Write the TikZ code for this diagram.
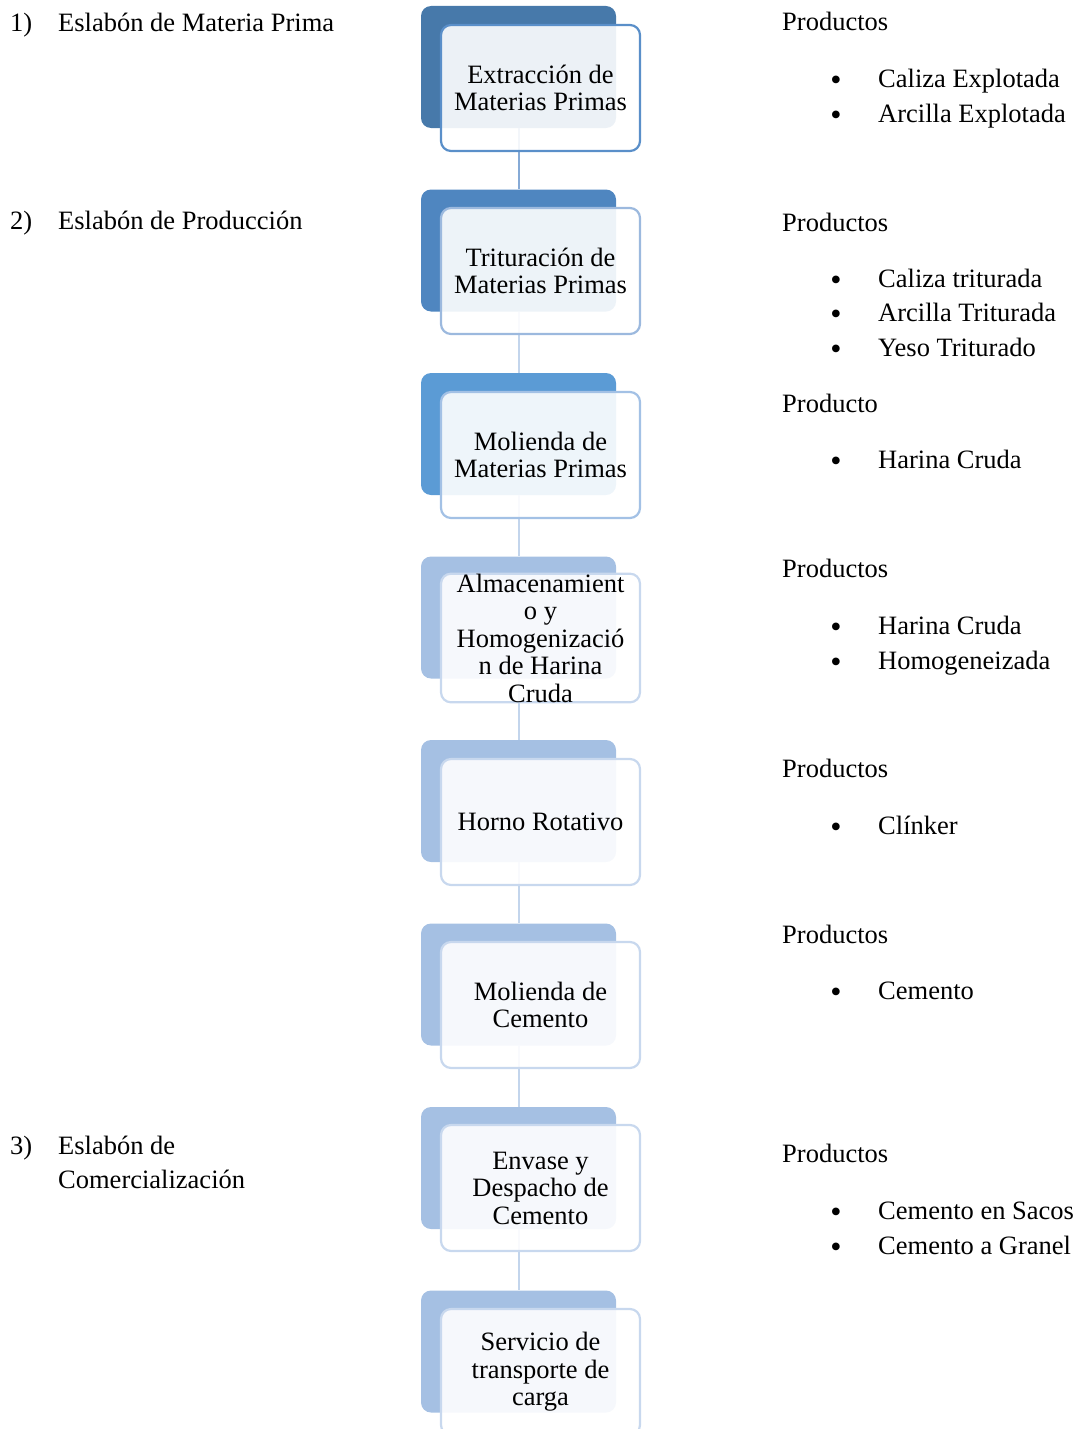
\documentclass[tikz,border=0pt]{standalone}
\usepackage{fontspec}
\setmainfont{Liberation Serif}
\begin{document}
\begin{tikzpicture}[x=1pt,y=-1pt,
  txt/.style={anchor=base west,inner sep=0pt,font=\fontsize{26.5}{27.5}\selectfont},
  dot/.style={anchor=base,inner sep=0pt,text height=12pt,text depth=0pt,font=\fontsize{32}{32}\selectfont},
  backbox/.style={rounded corners=10pt,minimum width=195pt,minimum height=122pt,inner sep=0pt,draw=none},
  frontbox/.style={rounded corners=10pt,minimum width=199pt,minimum height=126pt,inner sep=0pt,line width=2.2pt,fill=white,fill opacity=0.9,text opacity=1,align=center,font=\fontsize{26.5}{27.5}\selectfont},
  link/.style={line width=2pt}]
\definecolor{bk1}{HTML}{4779AA}
\definecolor{bk2}{HTML}{4F86C0}
\definecolor{bk3}{HTML}{5B9BD5}
\definecolor{bk4}{HTML}{A5C0E3}
\definecolor{fr1}{HTML}{5A8FC9}
\definecolor{fr2}{HTML}{9CB9DE}
\definecolor{fr3}{HTML}{A3C1E5}
\definecolor{fr4}{HTML}{C8D8EE}
\definecolor{ln1}{HTML}{86AAD6}
\definecolor{ln2}{HTML}{C3D5EC}
\useasboundingbox (0,0) rectangle (1076,1429);
% back boxes
\node[backbox,fill=bk1] (b1) at (518.5,67) {};
\node[backbox,fill=bk2] (b2) at (518.5,250.5) {};
\node[backbox,fill=bk3] (b3) at (518.5,434) {};
\node[backbox,fill=bk4] (b4) at (518.5,617.5) {};
\node[backbox,fill=bk4] (b5) at (518.5,801) {};
\node[backbox,fill=bk4] (b6) at (518.5,984.5) {};
\node[backbox,fill=bk4] (b7) at (518.5,1168) {};
\node[backbox,fill=bk4] (b8) at (518.5,1351.5) {};
% connectors
\draw[link,ln1] (b1.south) -- (b2.north);
\draw[link,ln2] (b2.south) -- (b3.north);
\draw[link,ln2] (b3.south) -- (b4.north);
\draw[link,ln2] (b4.south) -- (b5.north);
\draw[link,ln2] (b5.south) -- (b6.north);
\draw[link,ln2] (b6.south) -- (b7.north);
\draw[link,ln2] (b7.south) -- (b8.north);
% front boxes
\node[frontbox,draw=fr1] (f1) at (540.5,88) {Extracción de\\Materias Primas};
\node[frontbox,draw=fr2] (f2) at (540.5,271) {Trituración de\\Materias Primas};
\node[frontbox,draw=fr3] (f3) at (540.5,455) {Molienda de\\Materias Primas};
\node[frontbox,draw=fr4] (f4) at (540.5,638) {Almacenamient\\o y\\Homogenizació\\n de Harina\\Cruda};
\node[frontbox,draw=fr4] (f5) at (540.5,822) {Horno Rotativo};
\node[frontbox,draw=fr4] (f6) at (540.5,1005) {Molienda de\\Cemento};
\node[frontbox,draw=fr4] (f7) at (540.5,1188) {Envase y\\Despacho de\\Cemento};
\node[frontbox,draw=fr4] (f8) at (540.5,1372) {Servicio de\\transporte de\\carga};
% left labels
\node[txt] (n1) at (10,32) {1)};
\node[txt] (l1) at (58,32) {Eslabón de Materia Prima};
\node[txt] (n2) at (10,229) {2)};
\node[txt] (l2) at (58,229) {Eslabón de Producción};
\node[txt] (n3) at (10,1154) {3)};
\node[txt] (l3) at (58,1154) {Eslabón de};
\node[txt] (l3b) at (58,1188) {Comercialización};
% right labels
\node[txt] (p1) at (782,31) {Productos};
\node[dot] (d1a) at (836,90) {•};
\node[txt] (i1a) at (878,87) {Caliza Explotada};
\node[dot] (d1b) at (836,125) {•};
\node[txt] (i1b) at (878,122) {Arcilla Explotada};
\node[txt] (p2) at (782,231) {Productos};
\node[dot] (d2a) at (836,290) {•};
\node[txt] (i2a) at (878,287) {Caliza triturada};
\node[dot] (d2b) at (836,324) {•};
\node[txt] (i2b) at (878,321) {Arcilla Triturada};
\node[dot] (d2c) at (836,359) {•};
\node[txt] (i2c) at (878,356) {Yeso Triturado};
\node[txt] (p3) at (782,412) {Producto};
\node[dot] (d3a) at (836,471) {•};
\node[txt] (i3a) at (878,468) {Harina Cruda};
\node[txt] (p4) at (782,577) {Productos};
\node[dot] (d4a) at (836,637) {•};
\node[txt] (i4a) at (878,634) {Harina Cruda};
\node[dot] (d4b) at (836,672) {•};
\node[txt] (i4b) at (878,669) {Homogeneizada};
\node[txt] (p5) at (782,777) {Productos};
\node[dot] (d5a) at (836,837) {•};
\node[txt] (i5a) at (878,834) {Clínker};
\node[txt] (p6) at (782,943) {Productos};
\node[dot] (d6a) at (836,1002) {•};
\node[txt] (i6a) at (878,999) {Cemento};
\node[txt] (p7) at (782,1162) {Productos};
\node[dot] (d7a) at (836,1222) {•};
\node[txt] (i7a) at (878,1219) {Cemento en Sacos};
\node[dot] (d7b) at (836,1257) {•};
\node[txt] (i7b) at (878,1254) {Cemento a Granel};
\end{tikzpicture}
\end{document}
